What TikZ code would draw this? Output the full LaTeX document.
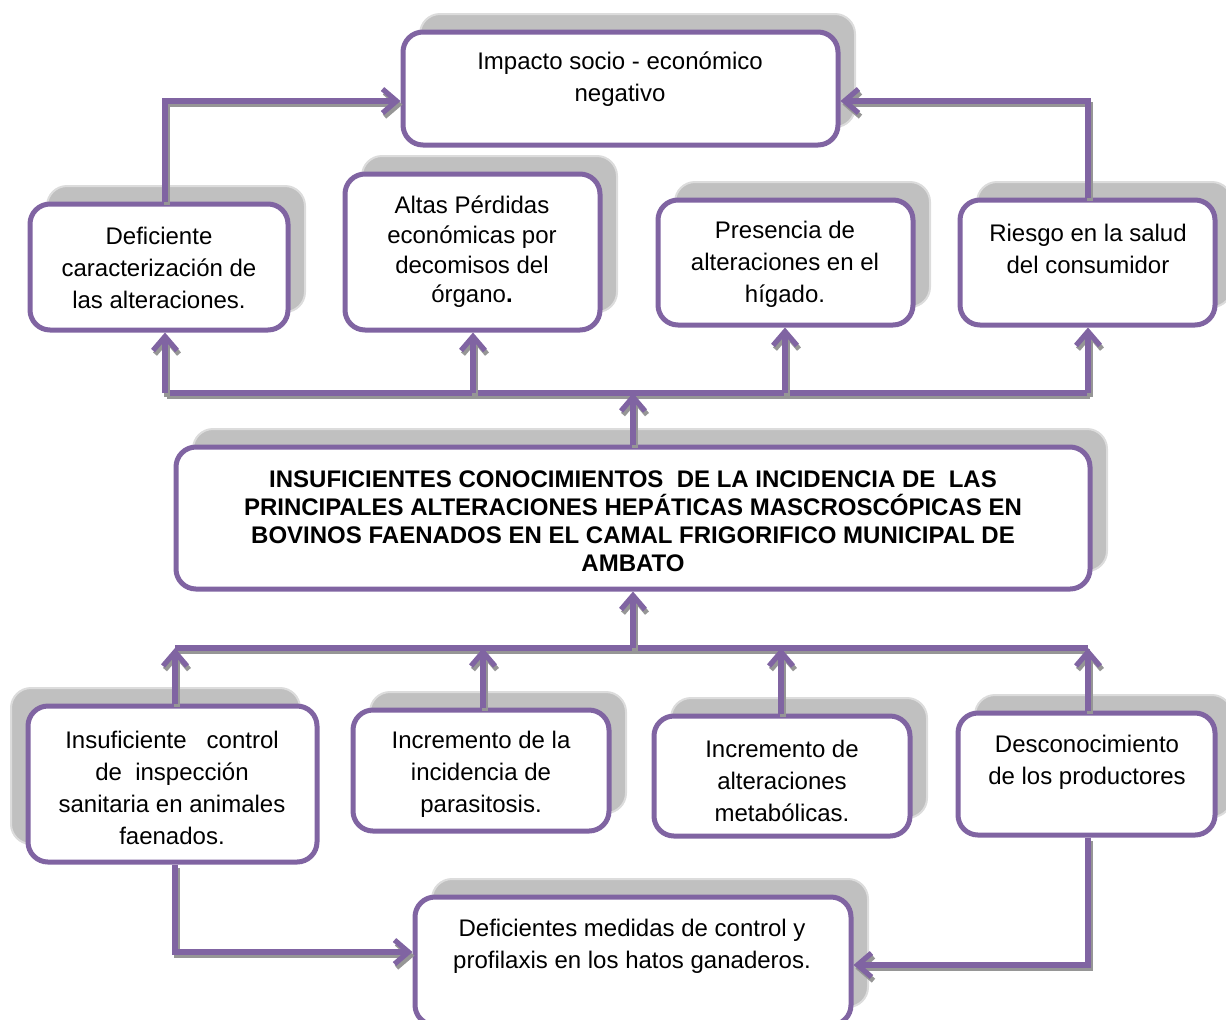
\documentclass[tikz,border=0pt]{standalone}
\usepackage{fontspec}
\setmainfont{Liberation Sans}
\usetikzlibrary{arrows.meta}
\definecolor{boxpurple}{RGB}{128,100,162}
\definecolor{shadegray}{RGB}{192,192,192}
\definecolor{shadeedge}{RGB}{220,220,220}
\definecolor{lineshade}{RGB}{150,150,150}

\tikzset{
  plainbox/.style={draw=boxpurple, line width=2.5pt, rounded corners=10pt, fill=white, inner sep=0pt},
  box/.style={plainbox,
    preaction={fill=shadegray, draw=shadeedge, line width=1pt,
      transform canvas={shift={(8.5pt,9pt)}}}},
  boxl/.style={plainbox,
    preaction={fill=shadegray, draw=shadeedge, line width=1pt,
      transform canvas={shift={(-8.5pt,9pt)}}}},
  txt/.style={align=center, font=\fontsize{12}{16}\selectfont},
  bold/.style={align=center, font=\fontsize{12}{14}\selectfont\bfseries},
  bus/.style={draw=boxpurple, line width=2.6pt,
    preaction={draw=lineshade, line width=2.6pt, transform canvas={shift={(1pt,-1.8pt)}}}},
  link/.style={bus, -{Straight Barb[length=7pt,width=12pt]}},
}

\begin{document}
\begin{tikzpicture}[x=0.5pt, y=-0.5pt]

\clip (0,0) rectangle (1226,1019);

%---------------------------------------
% Effects (top row)
%---------------------------------------
\node[box, minimum width=217.5pt, minimum height=56.5pt] (imp) at (620.5,88.5) {};
\node[txt] (impt) at (620,79) {Impacto socio - económico\\negativo};

\node[box, minimum width=129pt, minimum height=63pt] (def) at (159,267) {};
\node[txt] (deft) at (159,268) {Deficiente\\caracterización de\\las alteraciones.};

\node[box, minimum width=127.5pt, minimum height=78pt] (alt) at (472.5,252) {};
\node[txt, font=\fontsize{12}{14.8}\selectfont] (altt) at (472,252) {Altas Pérdidas\\económicas por\\decomisos del\\órgano\textbf{.}};

\node[box, minimum width=127.5pt, minimum height=62.5pt] (pre) at (785.5,262.5) {};
\node[txt] (pret) at (785,264.5) {Presencia de\\alteraciones en el\\hígado.};

\node[box, minimum width=127.5pt, minimum height=62.5pt] (rie) at (1087.5,262.5) {};
\node[txt] (riet) at (1088,249) {Riesgo en la salud\\del consumidor};

%---------------------------------------
% Central problem
%---------------------------------------
\node[box, minimum width=457pt, minimum height=71pt] (cen) at (633,518) {};
\node[bold] (cent) at (633,521.5) {INSUFICIENTES CONOCIMIENTOS\ \ DE LA INCIDENCIA DE\ \ LAS\\
  PRINCIPALES ALTERACIONES HEPÁTICAS MASCROSCÓPICAS EN\\
  BOVINOS FAENADOS EN EL CAMAL FRIGORIFICO MUNICIPAL DE\\AMBATO};

%---------------------------------------
% Causes (bottom rows)
%---------------------------------------
\node[boxl, minimum width=144.5pt, minimum height=78pt] (ins) at (172.5,784) {};
\node[txt] (inst) at (172,788) {Insuficiente\ \ \ control\\de\ \ inspección\\sanitaria en animales\\faenados.};

\node[box, minimum width=128pt, minimum height=60.5pt] (par) at (481,770.5) {};
\node[txt] (part) at (481,774) {Incremento de la\\incidencia de\\parasitosis.};

\node[box, minimum width=128pt, minimum height=60pt] (met) at (782,776) {};
\node[txt] (mett) at (782,781) {Incremento de\\alteraciones\\metabólicas.};

\node[box, minimum width=128.5pt, minimum height=61pt] (des) at (1086.5,774) {};
\node[txt] (dest) at (1087,762) {Desconocimiento\\de los productores};

\node[box, minimum width=218pt, minimum height=64pt] (med) at (633,961) {};
\node[txt] (medt) at (632,946) {Deficientes medidas de control y\\profilaxis en los hatos ganaderos.};

%---------------------------------------
% Connectors
%---------------------------------------
\coordinate (ua) at (165,101);
\coordinate (ub) at (1088,101);
\draw[link] (ua |- def.north) |- (imp.west |- ua);
\draw[link] (ub |- rie.north) |- (imp.east |- ub);

% upper bus
\coordinate (u1) at (165,393);
\coordinate (u2) at (473,393);
\coordinate (u3) at (785,393);
\coordinate (u4) at (1088,393);
\draw[bus] (u1) -- (u4);
\draw[link] (u1) -- (u1 |- def.south);
\draw[link] (u2) -- (u2 |- alt.south);
\draw[link] (u3) -- (u3 |- pre.south);
\draw[link] (u4) -- (u4 |- rie.south);
\draw[link] (cen.north) -- (cen.north |- u1);

% lower bus
\coordinate (l1) at (175,648);
\coordinate (l2) at (483,648);
\coordinate (l3) at (781,648);
\coordinate (l4) at (1088,648);
\draw[bus] (l1) -- (l4);
\draw[link] (l1 |- ins.north) -- (l1);
\draw[link] (l2 |- par.north) -- (l2);
\draw[link] (l3 |- met.north) -- (l3);
\draw[link] (l4 |- des.north) -- (l4);
\draw[link] (cen.south |- l1) -- (cen.south);

% to the bottom box
\coordinate (b1) at (175,952);
\coordinate (b2) at (1088,965);
\draw[link] (b1 |- ins.south) |- (med.west |- b1);
\draw[link] (b2 |- des.south) |- (med.east |- b2);

\end{tikzpicture}
\end{document}
